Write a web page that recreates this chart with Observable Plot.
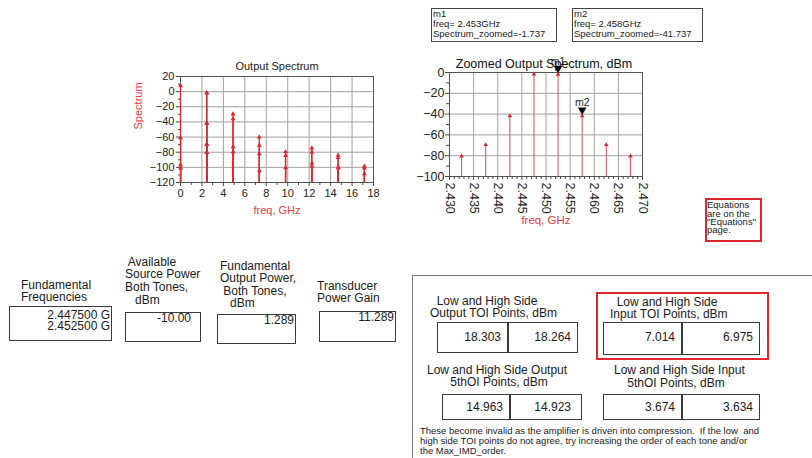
<!DOCTYPE html>
<html><head><meta charset="utf-8">
<script src="https://cdn.jsdelivr.net/npm/d3@7"></script>
<script src="https://cdn.jsdelivr.net/npm/@observablehq/plot@0.6"></script>
<style>
body{margin:0;background:#fff;}
#root{position:relative;width:812px;height:458px;overflow:hidden;font-family:"Liberation Sans",Arial,sans-serif;color:#1a1a1a;background:#fff;}
.t{position:absolute;white-space:pre;}
.box{position:absolute;box-sizing:border-box;}
.chart{position:absolute;}
</style></head><body><div id="root"></div>
<script>
// ---------- data ----------
const specFreqs = [0, 0.005, 0.010, 0.015,
  2.4325, 2.4375, 2.4425, 2.4475, 2.4525, 2.4575, 2.4625, 2.4675,
  4.895, 4.900, 4.905, 4.910,
  7.345, 7.350, 7.355, 7.360,
  9.795, 9.800, 9.805,
  12.245, 12.250, 12.255, 12.260,
  14.695, 14.700, 14.705, 14.710,
  17.145, 17.150, 17.155];
const specValues = [8, -61, -97, -101,
  -80.5, -69.5, -41.7, -1.7, -1.737, -41.737, -69.5, -80.5,
  -29.5, -36, -73, -79.5,
  -60, -71, -82, -104.5,
  -79.5, -84.5, -100.5,
  -74.5, -80, -94.5, -98.5,
  -84, -87, -99.5, -101,
  -98.5, -101, -108.5];
const specXTicks = [0, 2, 4, 6, 8, 10, 12, 14, 16, 18];
const specXMinor = [1, 3, 5, 7, 9, 11, 13, 15, 17];
const specYTicks = [-120, -100, -80, -60, -40, -20, 0, 20];
const specYMinor = [-110, -90, -70, -50, -30, -10, 10];

const zoomFreqs = [2.4325, 2.4375, 2.4425, 2.4475, 2.4525, 2.4575, 2.4625, 2.4675];
const zoomValues = [-80.5, -69.5, -41.7, -1.7, -1.737, -41.737, -69.5, -80.5];
const zoomXTicks = [2.430, 2.435, 2.440, 2.445, 2.450, 2.455, 2.460, 2.465, 2.470];
const zoomXMinor = d3.range(2431, 2470).filter(v => v % 5 !== 0).map(v => v / 1000);
const zoomYTicks = [-100, -80, -60, -40, -20, 0];
const zoomYMinor = [-90, -70, -50, -30, -10];

const markerNames = ["m1", "m2"];
const markerFreqs = [2.4525, 2.4575];
const markerValues = [-1.737, -41.737];
const markerFreqLabels = ["2.453GHz", "2.458GHz"];

const fundFreqs = ["2.447500 G", "2.452500 G"];
const sourcePower = "-10.00";
const outputPower = "1.289";
const gain = "11.289";
const outTOI = ["18.303", "18.264"];
const inTOI = ["7.014", "6.975"];
const out5OI = ["14.963", "14.923"];
const in5OI = ["3.674", "3.634"];

const RED = "#e0262c";
const LRED = "#e5393f";
const FONT = '"Liberation Sans", Arial, sans-serif';

const root = document.getElementById("root");
const specData = specFreqs.map((f, i) => ({f, v: specValues[i]}));
const zoomData = zoomFreqs.map((f, i) => ({f, v: zoomValues[i]}));
const markerData = markerNames.map((n, i) => ({n, f: markerFreqs[i], v: markerValues[i]}));

// ---------- left chart ----------
const spec = Plot.plot({
  width: 270, height: 180,
  marginLeft: 60, marginRight: 17, marginTop: 31, marginBottom: 43,
  style: {fontFamily: FONT, fontSize: "11px", background: "transparent", overflow: "visible", color: "#222"},
  x: {domain: [0, 18]},
  y: {domain: [-120, 20]},
  marks: [
    Plot.gridX(specXTicks, {stroke: "#a0a0a0", strokeOpacity: 1}),
    Plot.gridY(specYTicks, {stroke: "#a0a0a0", strokeOpacity: 1}),
    Plot.frame({stroke: "#555"}),
    Plot.axisY(specYTicks, {tickSize: 4, tickPadding: 2, label: null, stroke: "#444"}),
    Plot.axisY(specYMinor, {tickSize: 2, tickFormat: () => "", label: null, stroke: "#444"}),
    Plot.axisX(specXTicks, {tickSize: 4, tickPadding: 3, label: null, stroke: "#444"}),
    Plot.axisX(specXMinor, {tickSize: 3, tickFormat: () => "", label: null, stroke: "#444"}),
    Plot.ruleX(specData, {x: "f", y1: () => specYTicks[0], y2: "v", stroke: RED, strokeWidth: 1.3}),
    Plot.dot(specData, {x: "f", y: "v", symbol: "triangle", r: 1.8, fill: RED, stroke: null}),
    Plot.text(["Output Spectrum"], {text: d => d, frameAnchor: "top", dy: -14, fontSize: 11, fill: "#222"}),
    Plot.text(["freq, GHz"], {text: d => d, frameAnchor: "bottom", dy: 31, fontSize: 11, fill: LRED}),
    Plot.text(["Spectrum"], {text: d => d, frameAnchor: "left", dx: -42, rotate: -90, fontSize: 11, fill: LRED})
  ]
});
spec.classList.add("chart");
spec.style.left = "120px"; spec.style.top = "45px";
root.appendChild(spec);

// ---------- zoomed chart ----------
const zoom = Plot.plot({
  width: 250, height: 187,
  marginLeft: 49, marginRight: 8, marginTop: 27, marginBottom: 56,
  style: {fontFamily: FONT, fontSize: "12.5px", background: "transparent", overflow: "visible", color: "#222"},
  x: {domain: [zoomXTicks[0], zoomXTicks[zoomXTicks.length - 1]]},
  y: {domain: [-100, 0]},
  marks: [
    Plot.gridX(zoomXTicks, {stroke: "#a0a0a0", strokeOpacity: 1}),
    Plot.gridY(zoomYTicks, {stroke: "#a0a0a0", strokeOpacity: 1}),
    Plot.frame({stroke: "#555"}),
    Plot.axisY(zoomYTicks, {tickSize: 4, tickPadding: 1, label: null, stroke: "#444"}),
    Plot.axisY(zoomYMinor, {tickSize: 3, tickFormat: () => "", label: null, stroke: "#444"}),
    Plot.axisX(zoomXTicks, {tickSize: 4, tickPadding: 2, tickRotate: 90, tickFormat: d3.format(".3f"), label: null, stroke: "#444"}),
    Plot.axisX(zoomXMinor, {tickSize: 3, tickFormat: () => "", label: null, stroke: "#444"}),
    Plot.ruleX(zoomData, {x: "f", y1: () => zoomYTicks[0], y2: "v", stroke: "#e25a5e", strokeWidth: 1.1}),
    Plot.dot(zoomData, {x: "f", y: "v", symbol: "triangle", r: 1.7, fill: RED, stroke: null}),
    Plot.text(["Zoomed Output Spectrum, dBm"], {text: d => d, frameAnchor: "top", dy: -13, dx: -2, fontSize: 12.5, fill: "#111"}),
    Plot.text(["freq, GHz"], {text: d => d, frameAnchor: "bottom", dy: 47, fontSize: 11.5, fill: LRED}),
    Plot.text(markerData, {x: "f", y: "v", text: "n", dy: -13, fontSize: 10.5, fill: "#222"}),
    Plot.dot(markerData, {x: "f", y: "v", symbol: "triangle", rotate: 180, r: 3.2, dy: -6, fill: "#000", stroke: null})
  ]
});
zoom.classList.add("chart");
zoom.style.left = "400px"; zoom.style.top = "45px";
root.appendChild(zoom);

// ---------- helpers ----------
// y is the centre of the first line; multi-line strings use "\n"
function txt(s, x, y, size, opts = {}) {
  const d = document.createElement("div");
  d.className = "t";
  d.textContent = s;
  const lh = opts.lh || size * 1.2;
  d.style.fontSize = size + "px";
  d.style.lineHeight = lh + "px";
  d.style.top = (y - lh / 2) + "px";
  if (opts.right != null) {
    d.style.right = (812 - opts.right) + "px";
    d.style.textAlign = "right";
  } else {
    d.style.left = x + "px";
  }
  if (opts.color) d.style.color = opts.color;
  root.appendChild(d);
  return d;
}
function box(x1, y1, x2, y2, color = "#3a3a3a", w = 1, sides) {
  const d = document.createElement("div");
  d.className = "box";
  d.style.left = x1 + "px"; d.style.top = y1 + "px";
  d.style.width = (x2 - x1) + "px"; d.style.height = (y2 - y1) + "px";
  if (sides) {
    sides.forEach(s => d.style["border" + s] = `${w}px solid ${color}`);
  } else d.style.border = `${w}px solid ${color}`;
  root.appendChild(d);
  return d;
}

// ---------- marker readouts ----------
markerData.forEach((m, i) => {
  const x1 = i === 0 ? 431 : 572, x2 = i === 0 ? 557 : 703;
  box(x1, 8, x2, 42, "#444", 1);
  txt([m.n, "freq= " + markerFreqLabels[i], "Spectrum_zoomed=" + m.v.toFixed(3)].join("\n"), x1 + 2, 14, 9.5, {lh: 10.15});
});

// ---------- equations note ----------
box(705, 198, 762, 242, "#e0262c", 2.5);
txt(["Equations", "are on the", "\"Equations\"", "page."].join("\n"), 707, 205.5, 9.5, {lh: 8.3});

// ---------- left info boxes ----------
txt("Fundamental\nFrequencies", 21, 285, 12, {lh: 12.5});
box(9, 306, 112, 341);
txt(fundFreqs.join("\n"), 0, 315.5, 12, {right: 110, lh: 10.5});

txt(" Available\nSource Power\nBoth Tones,\n   dBm", 125, 262, 12, {lh: 12.7});
box(125, 312, 201, 342);
txt(sourcePower, 0, 318, 12, {right: 191, lh: 11});

txt("Fundamental\nOutput Power,\n Both Tones,\n   dBm", 220, 266, 12, {lh: 12.5});
box(217, 314, 296, 344);
txt(outputPower, 0, 320.5, 12, {right: 294, lh: 11});

txt("Transducer\nPower Gain", 317, 286, 12, {lh: 12.5});
box(319, 311, 396, 342);
txt(gain, 0, 317.5, 12, {right: 394, lh: 11});

// ---------- right panel ----------
box(412, 275, 830, 470, "#777", 1, ["Top", "Left"]);

txt("  Low and High Side\nOutput TOI Points, dBm", 430, 301, 12, {lh: 12});
box(437, 322, 578, 353);
box(507, 322, 508, 353);
txt(outTOI[0], 0, 337.5, 12, {right: 501, lh: 11}); txt(outTOI[1], 0, 337.5, 12, {right: 571, lh: 11});

box(596, 292, 769, 360, "#e0262c", 2.5);
txt("  Low and High Side\nInput TOI Points, dBm", 610, 302, 12, {lh: 12.2});
box(603, 322, 760, 355);
box(681, 322, 682, 355);
txt(inTOI[0], 0, 337.5, 12, {right: 675, lh: 11}); txt(inTOI[1], 0, 337.5, 12, {right: 753, lh: 11});

txt("Low and High Side Output\n       5thOI Points, dBm", 427, 369.5, 12, {lh: 12});
box(442, 394, 582, 420);
box(509, 394, 510, 420);
txt(out5OI[0], 0, 407, 12, {right: 503, lh: 11}); txt(out5OI[1], 0, 407, 12, {right: 571, lh: 11});

txt("Low and High Side Input\n    5thOI Points, dBm", 614, 370.5, 12, {lh: 12.5});
box(603, 394, 760, 420);
box(681, 394, 682, 420);
txt(in5OI[0], 0, 407, 12, {right: 675, lh: 11}); txt(in5OI[1], 0, 407, 12, {right: 753, lh: 11});

txt(["These become invalid as the amplifier is driven into compression.  If the low  and",
     "high side TOI points do not agree, try increasing the order of each tone and/or",
     "the Max_IMD_order."].join("\n"), 420, 430.7, 9.5, {lh: 10});
</script></body></html>
